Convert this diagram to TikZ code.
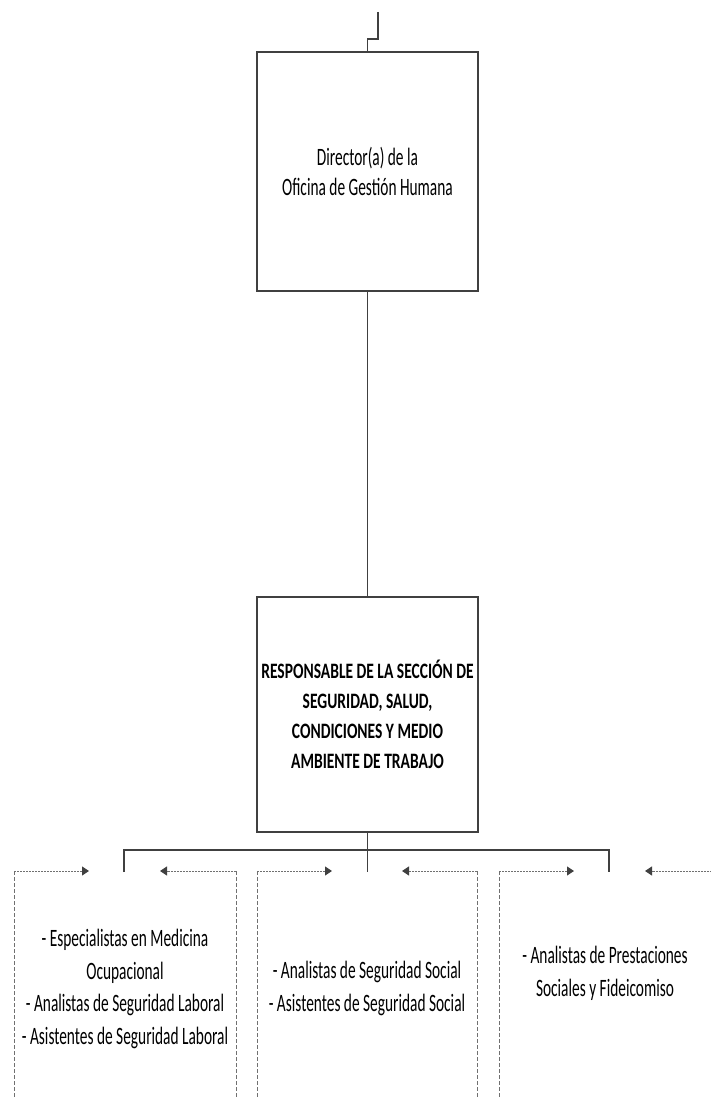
\documentclass[tikz,border=0pt]{standalone}
\usepackage{fontspec}
\setmainfont{Carlito}
\newfontfamily\regf[FakeStretch=0.615]{Carlito}
\newfontfamily\boldf[FakeStretch=0.705]{Carlito}
\usetikzlibrary{arrows.meta}
\definecolor{linec}{HTML}{404040}
\definecolor{dashc}{HTML}{707070}
\begin{document}
\begin{tikzpicture}[x=1pt,y=-1pt,
  box/.style={draw=linec, line width=1.7pt, minimum width=221pt, inner sep=0pt, align=center},
  conn/.style={draw=linec, line width=1.3pt},
  sidebox/.style={draw=dashc, line width=0.8pt, dash pattern=on 4pt off 2pt},
  darr/.style={draw=dashc, line width=0.9pt, dash pattern=on 2pt off 1pt, -{Triangle[length=7pt,width=9pt,color=linec]}},
  regtxt/.style={align=center, inner sep=0pt, font=\regf\fontsize{25}{32.5}\selectfont},
]
\useasboundingbox (0,0) rectangle (711,1099);
\fill[white] (0,0) rectangle (711,1099);

% main boxes
\node[box, minimum height=239pt, font=\regf\fontsize{25}{30}\selectfont] (dir) at (367.5,171.5)
  {Director(a) de la\\Oficina de Gestión Humana};
\node[box, minimum height=235pt, font=\boldf\bfseries\fontsize{22}{30}\selectfont] (resp) at (367.5,714.5)
  {RESPONSABLE DE LA SECCIÓN DE\\SEGURIDAD, SALUD,\\CONDICIONES Y MEDIO\\AMBIENTE DE TRABAJO};

% top incoming connector
\coordinate (topin) at (378,12);
\draw[conn] (topin) -- ++(0,27) -| (dir.north);

% director to responsible
\draw[conn] (dir) -- (resp);

% bus
\coordinate (bus) at (367.5,850);
\coordinate (d1) at (124,872);
\coordinate (d2) at (367.5,872);
\coordinate (d3) at (609,872);
\draw[conn] (resp.south) -- (bus);
\draw[conn] (d1) |- (bus) -| (d3);
\draw[conn] (bus) -- (d2);

% dashed boxes: corners
\coordinate (b1l) at (14,871);  \coordinate (b1r) at (236,871);
\coordinate (b2l) at (257,871); \coordinate (b2r) at (477,871);
\coordinate (b3l) at (499,871); \coordinate (b3r) at (715,871);
\coordinate (b1lb) at (14,1105);  \coordinate (b1rb) at (236,1105);
\coordinate (b2lb) at (257,1105); \coordinate (b2rb) at (477,1105);
\coordinate (b3lb) at (499,1105);
\draw[sidebox] (b1l) -- (b1lb);
\draw[sidebox] (b1r) -- (b1rb);
\draw[sidebox] (b2l) -- (b2lb);
\draw[sidebox] (b2r) -- (b2rb);
\draw[sidebox] (b3l) -- (b3lb);

% arrow targets
\coordinate (a1r) at (89,871);  \coordinate (a1l) at (160,871);
\coordinate (a2r) at (332,871); \coordinate (a2l) at (402,871);
\coordinate (a3r) at (574,871); \coordinate (a3l) at (645,871);
\draw[darr] (b1l) -- (a1r);
\draw[darr] (b1r) -- (a1l);
\draw[darr] (b2l) -- (a2r);
\draw[darr] (b2r) -- (a2l);
\draw[darr] (b3l) -- (a3r);
\draw[darr] (b3r) -- (a3l);

% texts in dashed boxes (anchor base = last line baseline)
\node[regtxt, anchor=base] (t1) at (125,1044)
  {- Especialistas en Medicina\\Ocupacional\\- Analistas de Seguridad Laboral\\- Asistentes de Seguridad Laboral};
\node[regtxt, anchor=base] (t2) at (367,1011)
  {- Analistas de Seguridad Social\\- Asistentes de Seguridad Social};
\node[regtxt, anchor=base] (t3) at (605,996)
  {- Analistas de Prestaciones\\Sociales y Fideicomiso};
\end{tikzpicture}
\end{document}
